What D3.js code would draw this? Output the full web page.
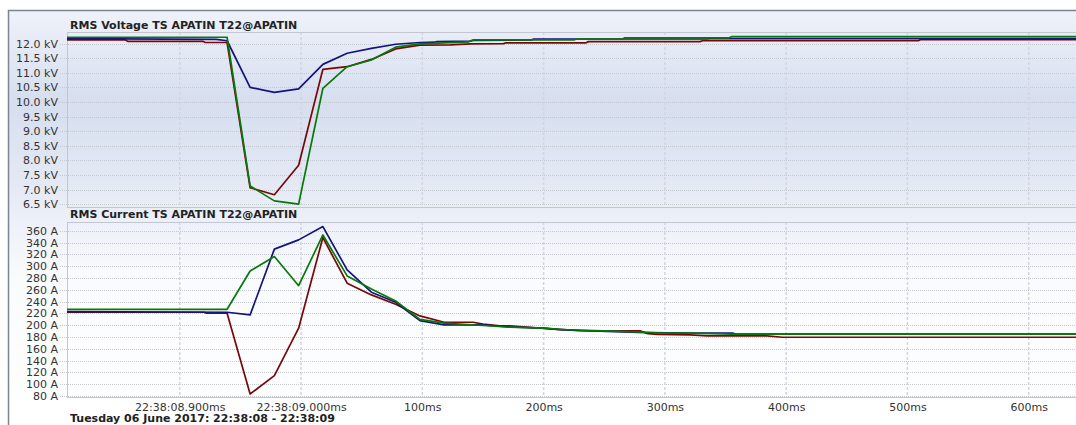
<!DOCTYPE html>
<html>
<head>
<meta charset="utf-8">
<script src="https://cdn.jsdelivr.net/npm/d3@7"></script>
<style>
  body { margin: 0; background: #fff; overflow: hidden; }
  svg { display: block; font-family: "DejaVu Sans", Verdana, sans-serif; }
</style>
</head>
<body>
<div class="container"></div>
<script>
// time in ms relative to 22:38:09.000
const xTicks = [-100, 0, 100, 200, 300, 400, 500, 600]
const xTickLabels = ["22:38:08.900ms", "22:38:09.000ms", "100ms", "200ms", "300ms", "400ms", "500ms", "600ms"]

const voltTicks = [6.5, 7.0, 7.5, 8.0, 8.5, 9.0, 9.5, 10.0, 10.5, 11.0, 11.5, 12.0]
const currTicks = [80, 100, 120, 140, 160, 180, 200, 220, 240, 260, 280, 300, 320, 340, 360]

const voltageBlue = [[-193, 12.17], [-70, 12.15], [-61, 12.10], [-42, 10.50], [-22, 10.33], [-2, 10.45], [18, 11.29], [38, 11.67], [58, 11.84], [78, 11.98], [98, 12.04], [110, 12.05], [112, 12.07], [140, 12.09], [142, 12.11], [190, 12.13], [192, 12.16], [335, 12.16], [337, 12.17], [639, 12.17]]
const voltageGreen = [[-193, 12.22], [-61, 12.22], [-42, 7.12], [-22, 6.61], [-2, 6.50], [18, 10.47], [38, 11.21], [58, 11.44], [78, 11.88], [98, 11.99], [138, 12.06], [140, 12.10], [142, 12.13], [225, 12.13], [227, 12.16], [265, 12.16], [267, 12.20], [353, 12.20], [355, 12.24], [639, 12.24]]
const voltageRed = [[-193, 12.13], [-145, 12.13], [-143, 12.08], [-81, 12.08], [-79, 12.04], [-61, 12.04], [-42, 7.06], [-22, 6.82], [-2, 7.83], [18, 11.12], [38, 11.21], [58, 11.46], [78, 11.82], [98, 11.95], [123, 11.96], [140, 11.99], [167, 12.00], [169, 12.03], [235, 12.03], [237, 12.07], [329, 12.07], [331, 12.10], [509, 12.10], [511, 12.14], [639, 12.14]]

const currentBlue = [[-193, 223], [-61, 222], [-42, 217.5], [-22, 329], [-2, 344.7], [18, 367.3], [38, 293.8], [58, 256], [78, 239], [98, 207.8], [118, 200.5], [150, 200.5], [172, 197], [200, 195], [213, 192.3], [252, 189.6], [285, 187.5], [321, 186.6], [356, 186.6], [358, 184.8], [639, 184.8]]
const currentGreen = [[-193, 227], [-61, 227], [-42, 292], [-22, 316.4], [-2, 267], [18, 353], [38, 283.6], [58, 261.6], [78, 241], [98, 210], [118, 203.4], [150, 199.5], [172, 196.6], [200, 195], [219, 192.3], [257, 190], [294, 187.2], [321, 186.6], [356, 184.8], [639, 184.8]]
const currentRed = [[-193, 222], [-80, 222], [-78, 220.4], [-61, 220.3], [-42, 83.4], [-22, 114.5], [-2, 194.9], [18, 348.6], [38, 271.2], [58, 251.4], [78, 235.6], [98, 215.8], [118, 205], [142, 205], [150, 202], [164, 199], [172, 199], [191, 196], [216, 192.5], [230, 191], [280, 190.3], [286, 185.7], [294, 184.6], [321, 183.5], [335, 181.8], [384, 181.8], [397, 179.6], [639, 179.6]]

const width = 1076
const height = 425
const left = 67
const right = 1090

const colors = { blue: "#14147e", green: "#08780a", red: "#780808" }

const svg = d3.select(".container")
  .append("svg")
    .attr("width", width)
    .attr("height", height)

const defs = svg.append("defs")
const grad = defs.append("linearGradient")
    .attr("id", "bg")
    .attr("gradientUnits", "userSpaceOnUse")
    .attr("x1", 0).attr("y1", 10)
    .attr("x2", 0).attr("y2", 425)
grad.selectAll("stop")
  .data([[0, "#eff2fa"], [0.22, "#d6deef"], [0.45, "#e6ebf5"], [0.52, "#eef1f9"], [0.65, "#fafbfd"], [1, "#ffffff"]])
  .enter()
  .append("stop")
    .attr("offset", d => d[0])
    .attr("stop-color", d => d[1])

svg.append("rect")
    .attr("x", 8.5)
    .attr("y", 10.5)
    .attr("width", 1200)
    .attr("height", 500)
    .attr("fill", "url(#bg)")
    .attr("stroke", "#7b8592")
    .attr("stroke-width", 1.5)

const xScale = d3.scaleLinear()
  .domain([-193, 639])
  .range([left, width])

const drawPanel = (opts) => {
  const yScale = d3.scaleLinear()
    .domain(opts.domain)
    .range([opts.bottom, opts.top])

  const g = svg.append("g")

  // horizontal grid
  g.selectAll(".hgrid")
    .data(opts.ticks)
    .enter()
    .append("line")
      .attr("x1", 60)
      .attr("x2", right)
      .attr("y1", d => Math.round(yScale(d)) + 0.5)
      .attr("y2", d => Math.round(yScale(d)) + 0.5)
      .attr("stroke", "#c3c8d1")
      .attr("stroke-dasharray", "1,1")

  // vertical grid
  g.selectAll(".vgrid")
    .data(xTicks)
    .enter()
    .append("line")
      .attr("x1", d => xScale(d))
      .attr("x2", d => xScale(d))
      .attr("y1", opts.top)
      .attr("y2", opts.bottom)
      .attr("stroke", "#d2d6de")
      .attr("stroke-width", 1.5)
      .attr("stroke-dasharray", "3,2")

  g.append("rect")
      .attr("x", left + 0.5)
      .attr("y", opts.top + 0.5)
      .attr("width", right - left)
      .attr("height", opts.bottom - opts.top)
      .attr("fill", "none")
      .attr("stroke", "#c2c6ce")

  const yAxis = d3.axisLeft(yScale)
    .tickValues(opts.ticks)
    .tickFormat(opts.format)
    .tickSize(0)
    .tickPadding(0)

  g.append("g")
      .attr("transform", "translate(58, 0)")
      .call(yAxis)
      .call(a => a.select(".domain").remove())
      .call(a => a.selectAll("text")
        .attr("font-size", 11)
        .attr("font-family", "DejaVu Sans, sans-serif")
        .attr("fill", "#333"))

  g.append("text")
      .attr("x", 70)
      .attr("y", opts.titleY)
      .attr("font-size", 11)
      .attr("font-weight", "bold")
      .attr("fill", "#222")
      .text(opts.title)

  const line = d3.line()
    .x(d => xScale(d[0]))
    .y(d => yScale(d[1]))

  opts.series.forEach(s => {
    g.append("path")
        .datum(s.data)
        .attr("fill", "none")
        .attr("stroke", s.color)
        .attr("stroke-width", 1.7)
        .attr("stroke-linejoin", "round")
        .attr("d", line)
  })
}

drawPanel({
  title: "RMS Voltage TS APATIN T22@APATIN",
  titleY: 29,
  top: 32,
  bottom: 207,
  domain: [6.4, 12.4],
  ticks: voltTicks,
  format: d => d3.format(".1f")(d) + " kV",
  series: [
    { data: voltageRed, color: colors.red },
    { data: voltageBlue, color: colors.blue },
    { data: voltageGreen, color: colors.green }
  ]
})

drawPanel({
  title: "RMS Current TS APATIN T22@APATIN",
  titleY: 218,
  top: 222,
  bottom: 397,
  domain: [78.3, 375],
  ticks: currTicks,
  format: d => d + " A",
  series: [
    { data: currentRed, color: colors.red },
    { data: currentBlue, color: colors.blue },
    { data: currentGreen, color: colors.green }
  ]
})

const xAxis = d3.axisBottom(xScale)
  .tickValues(xTicks)
  .tickFormat((d, i) => xTickLabels[i])
  .tickSize(0)
  .tickPadding(6)

svg.append("g")
    .attr("transform", "translate(0, 397)")
    .call(xAxis)
    .call(a => a.select(".domain").remove())
    .call(a => a.selectAll("text")
      .attr("font-size", 11)
      .attr("font-family", "DejaVu Sans, sans-serif")
      .attr("fill", "#333"))

svg.append("text")
    .attr("x", 70)
    .attr("y", 422)
    .attr("font-size", 11)
    .attr("font-weight", "bold")
    .attr("fill", "#222")
    .text("Tuesday 06 June 2017: 22:38:08 - 22:38:09")
</script>
</body>
</html>
